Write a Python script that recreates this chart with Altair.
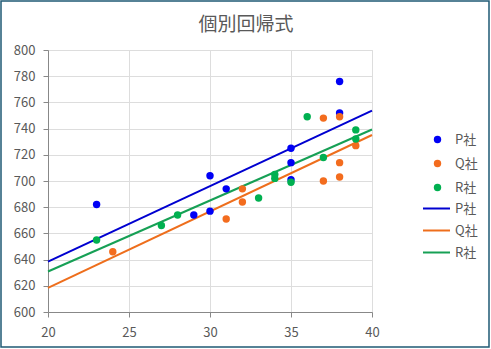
import altair as alt
import pandas as pd

series_names = ["P社", "Q社", "R社"]
p_x = [23, 29, 30, 30, 31, 35, 35, 35, 38, 38]
p_y = [682, 674, 704, 677, 694, 725, 714, 701, 776, 752]
q_x = [24, 31, 32, 32, 37, 37, 38, 38, 38, 39]
q_y = [646, 671, 694, 684, 700, 748, 703, 714, 749, 727]
r_x = [23, 27, 28, 33, 34, 34, 35, 36, 37, 39, 39]
r_y = [655, 666, 674, 687, 705, 702, 699, 749, 718, 739, 732]
x_ticks = [20, 25, 30, 35, 40]
y_ticks = [600, 620, 640, 660, 680, 700, 720, 740, 760, 780, 800]

dot_colors = ["#0000F5", "#F36C1E", "#00B050"]
line_colors = ["#0000D0", "#EE6E1C", "#16A055"]

rows = []
for name, xs, ys in zip(series_names, [p_x, q_x, r_x], [p_y, q_y, r_y]):
    for a, b in zip(xs, ys):
        rows.append({"series": name, "x": a, "y": b})
df = pd.DataFrame(rows)

FONT = "Noto Sans CJK JP"
GRAY = "#595959"

xenc = alt.X("x:Q", scale=alt.Scale(domain=[20, 40], nice=False),
             axis=alt.Axis(values=x_ticks, title=None, grid=True, labelPadding=9,
                           labelFlush=False,
                           labelFontSize=13, labelFont=FONT, labelColor=GRAY))
yenc = alt.Y("y:Q", scale=alt.Scale(domain=[600, 800], nice=False, zero=False),
             axis=alt.Axis(values=y_ticks, title=None, grid=True, labelPadding=8,
                           labelFlush=False,
                           labelFontSize=13, labelFont=FONT, labelColor=GRAY))

base = alt.Chart(df)

lines = base.transform_regression(
    "x", "y", groupby=["series"], extent=[20, 40]
).mark_line(strokeWidth=2).encode(
    x=xenc,
    y=yenc,
    color=alt.Color("series:N",
                    scale=alt.Scale(domain=series_names, range=line_colors),
                    legend=alt.Legend(title=None, orient="none", legendX=374, legendY=144,
                                      symbolType="stroke", symbolSize=729,
                                      symbolStrokeWidth=2, labelOffset=4,
                                      rowPadding=-4, padding=0,
                                      labelFont=FONT, labelFontSize=13, labelColor=GRAY)),
)

points = base.mark_circle(size=55, opacity=1).encode(
    x=xenc,
    y=yenc,
    fill=alt.Fill("series:N",
                  scale=alt.Scale(domain=series_names, range=dot_colors),
                  legend=alt.Legend(title=None, orient="none", legendX=383, legendY=83,
                                    symbolType="circle", symbolSize=55, labelOffset=11,
                                    rowPadding=10, padding=0,
                                    labelFont=FONT, labelFontSize=13, labelColor=GRAY)),
)

frame = alt.Chart(pd.DataFrame({"k": [0]})).mark_rect(
    fill="transparent", stroke="#1F5A74", strokeWidth=1.5
).encode(x=alt.value(-47), x2=alt.value(441), y=alt.value(-49), y2=alt.value(297))

chart = alt.layer(frame, lines, points).resolve_scale(
    color="independent", fill="independent"
).properties(
    width=324,
    height=262,
    padding={"left": 48, "top": 50, "right": 119, "bottom": 37},
    autosize=alt.AutoSizeParams(type="none"),
    title=alt.Title("個別回帰式", font=FONT, fontSize=19, fontWeight="normal",
                    color=GRAY, anchor="middle", frame="group", dx=36, dy=50, offset=15),
).configure_view(
    stroke="#1F5A74", strokeWidth=1.5
).configure_axis(
    gridColor="#D9D9D9", domainColor="#BFBFBF", ticks=False,
).configure(background="white")

chart.save("out.html", embed_options={"renderer": "svg", "actions": False})
